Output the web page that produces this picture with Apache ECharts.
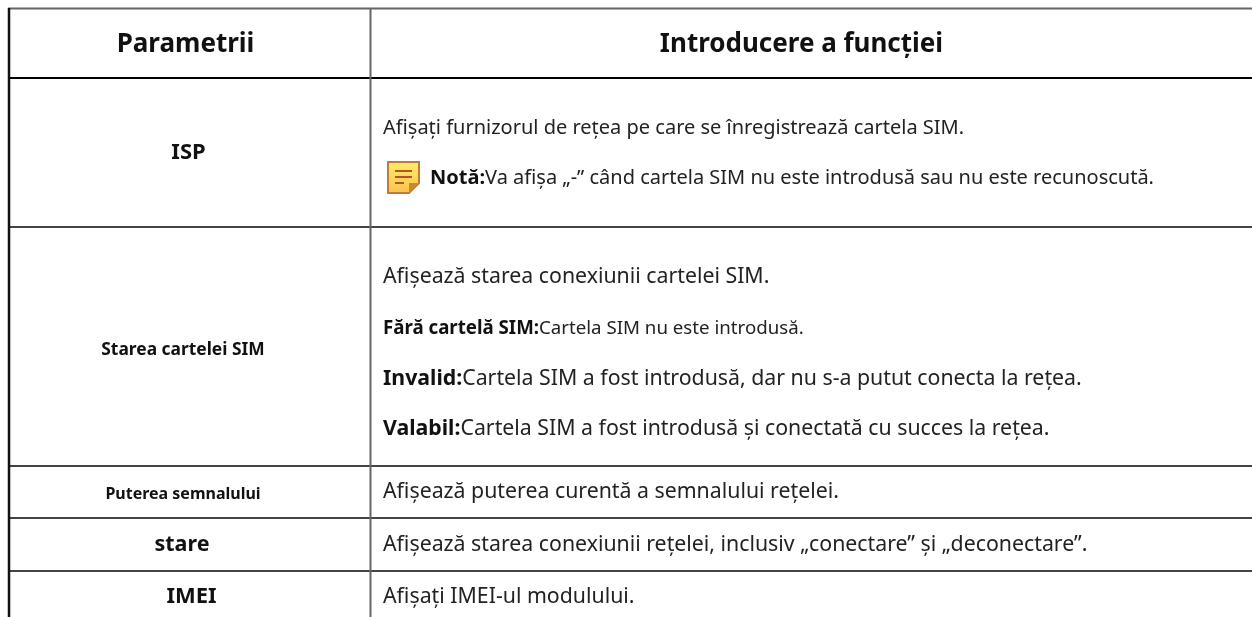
<!DOCTYPE html>
<html>
<head>
<meta charset="utf-8">
<style>
html, body { margin: 0; padding: 0; background: #fff; }
#chart { width: 1252px; height: 617px; }
</style>
<script src="https://cdn.jsdelivr.net/npm/echarts@6/dist/echarts.min.js"></script>
</head>
<body>
<div id="chart"></div>
<script>
// table text
var headers = ['Parametrii', 'Introducere a funcției'];
var parameters = ['ISP', 'Starea cartelei SIM', 'Puterea semnalului', 'stare', 'IMEI'];
var ispLine = 'Afișați furnizorul de rețea pe care se înregistrează cartela SIM.';
var ispNote = ['Notă:', 'Va afișa „-” când cartela SIM nu este introdusă sau nu este recunoscută.'];
var simLines = [
    ['', 'Afișează starea conexiunii cartelei SIM.'],
    ['Fără cartelă SIM:', 'Cartela SIM nu este introdusă.'],
    ['Invalid:', 'Cartela SIM a fost introdusă, dar nu s-a putut conecta la rețea.'],
    ['Valabil:', 'Cartela SIM a fost introdusă și conectată cu succes la rețea.']
];
var signalLine = 'Afișează puterea curentă a semnalului rețelei.';
var stateLine = 'Afișează starea conexiunii rețelei, inclusiv „conectare” și „deconectare”.';
var imeiLine = 'Afișați IMEI-ul modulului.';

// table layout, in picture pixels
var rowEdges = [78, 227, 466, 518, 571];
var paramX = [188.5, 183, 183, 182, 191.5];
var paramY = [153, 350, 494, 545, 597];
var paramSizes = [22, 17.4, 16, 21.5, 22];
var simY = [277, 329, 379, 429];
var simSizes = [21.3, 18.7, 21.3, 21.3];
var columnEdge = 370.5;
var tableLeft = 9;
var tableTop = 8.5;

var chart = echarts.init(document.getElementById('chart'), null, { renderer: 'canvas' });
var font = '"Noto Sans", sans-serif';

function hLine(api, x1, x2, y, width, color) {
    var a = api.coord([x1, y]);
    var b = api.coord([x2, y]);
    return { type: 'line', shape: { x1: a[0], y1: a[1], x2: b[0], y2: b[1] }, style: { stroke: color, lineWidth: width } };
}

function vLine(api, x, y1, y2, width, color) {
    var a = api.coord([x, y1]);
    var b = api.coord([x, y2]);
    return { type: 'line', shape: { x1: a[0], y1: a[1], x2: b[0], y2: b[1] }, style: { stroke: color, lineWidth: width } };
}

function label(api, x, y, bold, plain, size, align) {
    var p = api.coord([x, y]);
    var text = (bold ? '{b|' + bold + '}' : '') + (plain ? '{n|' + plain + '}' : '');
    return {
        type: 'text',
        x: p[0],
        y: p[1],
        style: {
            text: text,
            align: align,
            verticalAlign: 'middle',
            rich: {
                b: { fontFamily: font, fontWeight: 'bold', fontSize: size, fill: '#111', lineHeight: 30 },
                n: { fontFamily: font, fontSize: size, fill: '#222', lineHeight: 30 }
            }
        }
    };
}

function noteIcon(api, x, y) {
    var p = api.coord([x, y]);
    return {
        type: 'group',
        x: p[0],
        y: p[1],
        children: [
            {
                type: 'polygon',
                shape: { points: [[1, 1], [32, 1], [32, 22], [22, 32], [1, 32]] },
                style: {
                    stroke: '#c07a3c',
                    lineWidth: 2,
                    fill: new echarts.graphic.LinearGradient(0, 0, 0, 1, [
                        { offset: 0, color: '#fdee6a' },
                        { offset: 1, color: '#fdc04e' }
                    ])
                }
            },
            { type: 'polygon', shape: { points: [[22, 22], [32, 22], [22, 32]] }, style: { fill: '#c9892f' } },
            { type: 'rect', shape: { x: 8, y: 9, width: 17, height: 2 }, style: { fill: '#b5522a' } },
            { type: 'rect', shape: { x: 8, y: 15, width: 17, height: 2 }, style: { fill: '#b5522a' } },
            { type: 'rect', shape: { x: 8, y: 21, width: 9, height: 2 }, style: { fill: '#b5522a' } }
        ]
    };
}

function renderTable(params, api) {
    var children = [];
    var textLeft = 383;

    // rules
    children.push(hLine(api, 8, 1252, tableTop, 2, '#666'));
    children.push(hLine(api, 8, 1252, rowEdges[0], 2, '#000'));
    for (var i = 1; i < rowEdges.length; i++) {
        children.push(hLine(api, 8, 1252, rowEdges[i], 2, '#444'));
    }
    children.push(vLine(api, tableLeft, 8, 617, 2.5, '#111'));
    children.push(vLine(api, columnEdge, 8, 617, 2, '#666'));

    // header row
    children.push(label(api, 185.5, 44.5, headers[0], '', 26, 'center'));
    children.push(label(api, 801.5, 44.5, headers[1], '', 26, 'center'));

    // first column
    for (var j = 0; j < parameters.length; j++) {
        children.push(label(api, paramX[j], paramY[j], parameters[j], '', paramSizes[j], 'center'));
    }

    // second column
    children.push(label(api, textLeft, 128, '', ispLine, 20, 'left'));
    children.push(noteIcon(api, 387, 161));
    children.push(label(api, 430, 178, ispNote[0], ispNote[1], 20, 'left'));
    for (var k = 0; k < simLines.length; k++) {
        children.push(label(api, textLeft, simY[k], simLines[k][0], simLines[k][1], simSizes[k], 'left'));
    }
    children.push(label(api, textLeft, 492, '', signalLine, 21.3, 'left'));
    children.push(label(api, textLeft, 545, '', stateLine, 21.3, 'left'));
    children.push(label(api, textLeft, 597, '', imeiLine, 21.3, 'left'));

    return { type: 'group', children: children };
}

chart.setOption({
    backgroundColor: '#ffffff',
    animation: false,
    grid: { left: 0, right: 0, top: 0, bottom: 0 },
    xAxis: { type: 'value', min: 0, max: 1252, show: false },
    yAxis: { type: 'value', min: 0, max: 617, inverse: true, show: false },
    series: [
        {
            type: 'custom',
            clip: false,
            silent: true,
            data: [[0, 0]],
            renderItem: renderTable
        }
    ]
});
</script>
</body>
</html>
